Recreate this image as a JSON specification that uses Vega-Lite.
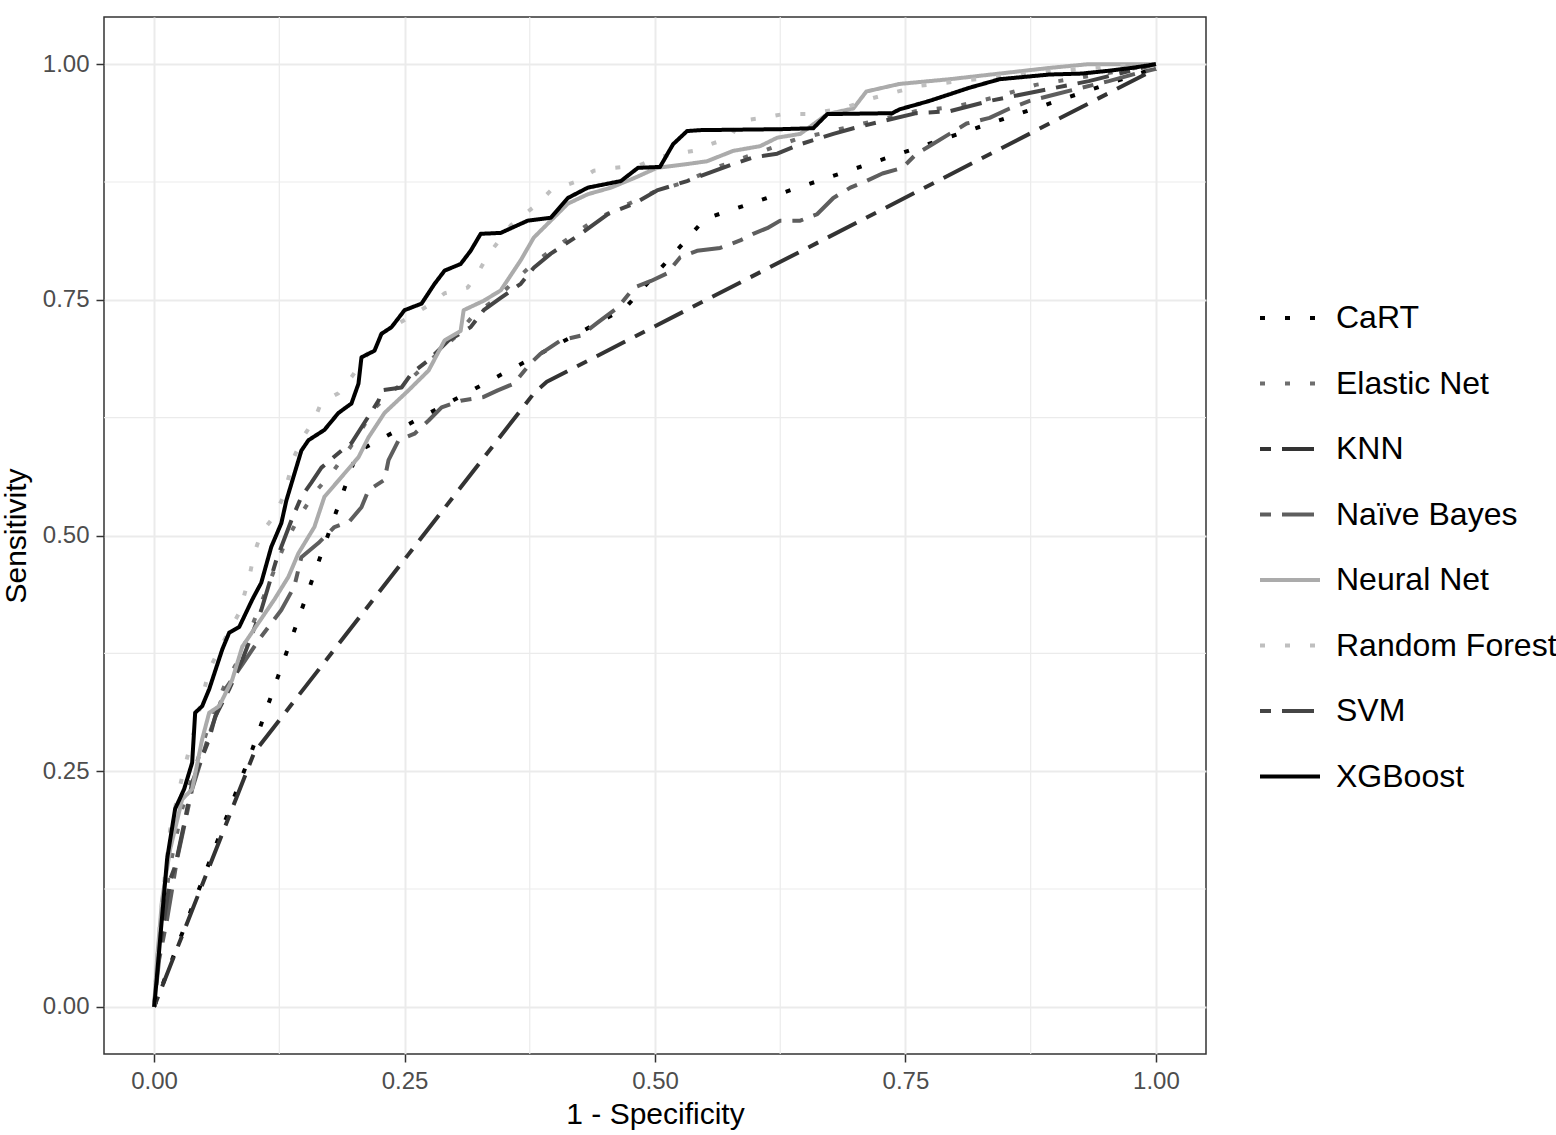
{
  "$schema": "https://vega.github.io/schema/vega-lite/v6.json",
  "width": 1102,
  "height": 1037,
  "autosize": {"type": "none"},
  "padding": {"left": 104, "top": 17, "right": 350, "bottom": 81},
  "background": "white",
  "config": {
    "font": "Liberation Sans",
    "view": {"stroke": "#333333", "strokeWidth": 1.5},
    "axis": {
      "domain": false,
      "grid": true,
      "gridColor": "#ebebeb",
      "gridWidth": 2,
      "tickColor": "#333333",
      "tickWidth": 1.5,
      "tickSize": 8,
      "labelFontSize": 24,
      "labelColor": "#4d4d4d",
      "labelPadding": 7,
      "titleFontSize": 30,
      "titleFontWeight": "normal",
      "titleColor": "#000000"
    },
    "legend": {
      "title": null,
      "orient": "none",
      "legendX": 1154,
      "legendY": 269,
      "symbolType": "stroke",
      "symbolSize": 3600,
      "symbolStrokeWidth": 4,
      "labelFontSize": 32,
      "labelColor": "#000000",
      "labelOffset": 14,
      "labelLimit": 0,
      "rowPadding": 17.5
    }
  },
  "datasets": {
    "minor": [{"v": 0.125}, {"v": 0.375}, {"v": 0.625}, {"v": 0.875}],
    "roc": [
      {"model": "CaRT", "fpr": 0, "tpr": 0},
      {"model": "CaRT", "fpr": 0.097, "tpr": 0.27},
      {"model": "CaRT", "fpr": 0.203, "tpr": 0.589},
      {"model": "CaRT", "fpr": 0.47, "tpr": 0.741},
      {"model": "CaRT", "fpr": 0.55, "tpr": 0.836},
      {"model": "CaRT", "fpr": 1, "tpr": 0.996},

      {"model": "KNN", "fpr": 0, "tpr": 0},
      {"model": "KNN", "fpr": 0.1, "tpr": 0.27},
      {"model": "KNN", "fpr": 0.38, "tpr": 0.652},
      {"model": "KNN", "fpr": 0.392, "tpr": 0.663},
      {"model": "KNN", "fpr": 1, "tpr": 0.995},

      {"model": "Elastic Net", "fpr": 0, "tpr": 0},
      {"model": "Elastic Net", "fpr": 0.004, "tpr": 0.06},
      {"model": "Elastic Net", "fpr": 0.01, "tpr": 0.11},
      {"model": "Elastic Net", "fpr": 0.018, "tpr": 0.16},
      {"model": "Elastic Net", "fpr": 0.028, "tpr": 0.21},
      {"model": "Elastic Net", "fpr": 0.04, "tpr": 0.25},
      {"model": "Elastic Net", "fpr": 0.055, "tpr": 0.3},
      {"model": "Elastic Net", "fpr": 0.07, "tpr": 0.34},
      {"model": "Elastic Net", "fpr": 0.085, "tpr": 0.37},
      {"model": "Elastic Net", "fpr": 0.1, "tpr": 0.41},
      {"model": "Elastic Net", "fpr": 0.115, "tpr": 0.45},
      {"model": "Elastic Net", "fpr": 0.13, "tpr": 0.49},
      {"model": "Elastic Net", "fpr": 0.145, "tpr": 0.52},
      {"model": "Elastic Net", "fpr": 0.16, "tpr": 0.545},
      {"model": "Elastic Net", "fpr": 0.18, "tpr": 0.57},
      {"model": "Elastic Net", "fpr": 0.2, "tpr": 0.6},
      {"model": "Elastic Net", "fpr": 0.22, "tpr": 0.635},
      {"model": "Elastic Net", "fpr": 0.24, "tpr": 0.655},
      {"model": "Elastic Net", "fpr": 0.26, "tpr": 0.67},
      {"model": "Elastic Net", "fpr": 0.28, "tpr": 0.69},
      {"model": "Elastic Net", "fpr": 0.3, "tpr": 0.71},
      {"model": "Elastic Net", "fpr": 0.32, "tpr": 0.735},
      {"model": "Elastic Net", "fpr": 0.34, "tpr": 0.75},
      {"model": "Elastic Net", "fpr": 0.36, "tpr": 0.77},
      {"model": "Elastic Net", "fpr": 0.38, "tpr": 0.79},
      {"model": "Elastic Net", "fpr": 0.4, "tpr": 0.805},
      {"model": "Elastic Net", "fpr": 0.42, "tpr": 0.82},
      {"model": "Elastic Net", "fpr": 0.44, "tpr": 0.835},
      {"model": "Elastic Net", "fpr": 0.46, "tpr": 0.845},
      {"model": "Elastic Net", "fpr": 0.48, "tpr": 0.855},
      {"model": "Elastic Net", "fpr": 0.5, "tpr": 0.865},
      {"model": "Elastic Net", "fpr": 0.53, "tpr": 0.875},
      {"model": "Elastic Net", "fpr": 0.56, "tpr": 0.89},
      {"model": "Elastic Net", "fpr": 0.6, "tpr": 0.905},
      {"model": "Elastic Net", "fpr": 0.64, "tpr": 0.92},
      {"model": "Elastic Net", "fpr": 0.68, "tpr": 0.93},
      {"model": "Elastic Net", "fpr": 0.72, "tpr": 0.94},
      {"model": "Elastic Net", "fpr": 0.76, "tpr": 0.95},
      {"model": "Elastic Net", "fpr": 0.8, "tpr": 0.955},
      {"model": "Elastic Net", "fpr": 0.84, "tpr": 0.965},
      {"model": "Elastic Net", "fpr": 0.88, "tpr": 0.978},
      {"model": "Elastic Net", "fpr": 0.92, "tpr": 0.985},
      {"model": "Elastic Net", "fpr": 0.96, "tpr": 0.992},
      {"model": "Elastic Net", "fpr": 1, "tpr": 1},

      {"model": "Naïve Bayes", "fpr": 0, "tpr": 0},
      {"model": "Naïve Bayes", "fpr": 0.005, "tpr": 0.05},
      {"model": "Naïve Bayes", "fpr": 0.013, "tpr": 0.093},
      {"model": "Naïve Bayes", "fpr": 0.023, "tpr": 0.157},
      {"model": "Naïve Bayes", "fpr": 0.038, "tpr": 0.231},
      {"model": "Naïve Bayes", "fpr": 0.055, "tpr": 0.289},
      {"model": "Naïve Bayes", "fpr": 0.071, "tpr": 0.337},
      {"model": "Naïve Bayes", "fpr": 0.088, "tpr": 0.363},
      {"model": "Naïve Bayes", "fpr": 0.105, "tpr": 0.39},
      {"model": "Naïve Bayes", "fpr": 0.127, "tpr": 0.421},
      {"model": "Naïve Bayes", "fpr": 0.14, "tpr": 0.446},
      {"model": "Naïve Bayes", "fpr": 0.147, "tpr": 0.477},
      {"model": "Naïve Bayes", "fpr": 0.164, "tpr": 0.492},
      {"model": "Naïve Bayes", "fpr": 0.18, "tpr": 0.509},
      {"model": "Naïve Bayes", "fpr": 0.195, "tpr": 0.515},
      {"model": "Naïve Bayes", "fpr": 0.207, "tpr": 0.53},
      {"model": "Naïve Bayes", "fpr": 0.214, "tpr": 0.548},
      {"model": "Naïve Bayes", "fpr": 0.23, "tpr": 0.559},
      {"model": "Naïve Bayes", "fpr": 0.234, "tpr": 0.58},
      {"model": "Naïve Bayes", "fpr": 0.244, "tpr": 0.601},
      {"model": "Naïve Bayes", "fpr": 0.26, "tpr": 0.608},
      {"model": "Naïve Bayes", "fpr": 0.274, "tpr": 0.622},
      {"model": "Naïve Bayes", "fpr": 0.287, "tpr": 0.636},
      {"model": "Naïve Bayes", "fpr": 0.306, "tpr": 0.643},
      {"model": "Naïve Bayes", "fpr": 0.329, "tpr": 0.647},
      {"model": "Naïve Bayes", "fpr": 0.343, "tpr": 0.654},
      {"model": "Naïve Bayes", "fpr": 0.359, "tpr": 0.661},
      {"model": "Naïve Bayes", "fpr": 0.376, "tpr": 0.683},
      {"model": "Naïve Bayes", "fpr": 0.386, "tpr": 0.693},
      {"model": "Naïve Bayes", "fpr": 0.406, "tpr": 0.707},
      {"model": "Naïve Bayes", "fpr": 0.426, "tpr": 0.712},
      {"model": "Naïve Bayes", "fpr": 0.443, "tpr": 0.726},
      {"model": "Naïve Bayes", "fpr": 0.463, "tpr": 0.742},
      {"model": "Naïve Bayes", "fpr": 0.479, "tpr": 0.763},
      {"model": "Naïve Bayes", "fpr": 0.496, "tpr": 0.77},
      {"model": "Naïve Bayes", "fpr": 0.512, "tpr": 0.778},
      {"model": "Naïve Bayes", "fpr": 0.525, "tpr": 0.795},
      {"model": "Naïve Bayes", "fpr": 0.542, "tpr": 0.802},
      {"model": "Naïve Bayes", "fpr": 0.565, "tpr": 0.805},
      {"model": "Naïve Bayes", "fpr": 0.585, "tpr": 0.813},
      {"model": "Naïve Bayes", "fpr": 0.598, "tpr": 0.82},
      {"model": "Naïve Bayes", "fpr": 0.612, "tpr": 0.826},
      {"model": "Naïve Bayes", "fpr": 0.625, "tpr": 0.834},
      {"model": "Naïve Bayes", "fpr": 0.645, "tpr": 0.834},
      {"model": "Naïve Bayes", "fpr": 0.662, "tpr": 0.841},
      {"model": "Naïve Bayes", "fpr": 0.678, "tpr": 0.858},
      {"model": "Naïve Bayes", "fpr": 0.695, "tpr": 0.869},
      {"model": "Naïve Bayes", "fpr": 0.711, "tpr": 0.876},
      {"model": "Naïve Bayes", "fpr": 0.727, "tpr": 0.884},
      {"model": "Naïve Bayes", "fpr": 0.747, "tpr": 0.89},
      {"model": "Naïve Bayes", "fpr": 0.761, "tpr": 0.905},
      {"model": "Naïve Bayes", "fpr": 0.777, "tpr": 0.915},
      {"model": "Naïve Bayes", "fpr": 0.794, "tpr": 0.926},
      {"model": "Naïve Bayes", "fpr": 0.811, "tpr": 0.937},
      {"model": "Naïve Bayes", "fpr": 0.834, "tpr": 0.943},
      {"model": "Naïve Bayes", "fpr": 0.854, "tpr": 0.953},
      {"model": "Naïve Bayes", "fpr": 0.874, "tpr": 0.961},
      {"model": "Naïve Bayes", "fpr": 0.9, "tpr": 0.968},
      {"model": "Naïve Bayes", "fpr": 0.926, "tpr": 0.975},
      {"model": "Naïve Bayes", "fpr": 0.953, "tpr": 0.982},
      {"model": "Naïve Bayes", "fpr": 0.98, "tpr": 0.99},
      {"model": "Naïve Bayes", "fpr": 1, "tpr": 0.995},

      {"model": "SVM", "fpr": 0, "tpr": 0},
      {"model": "SVM", "fpr": 0.004, "tpr": 0.051},
      {"model": "SVM", "fpr": 0.01, "tpr": 0.093},
      {"model": "SVM", "fpr": 0.016, "tpr": 0.135},
      {"model": "SVM", "fpr": 0.021, "tpr": 0.149},
      {"model": "SVM", "fpr": 0.031, "tpr": 0.199},
      {"model": "SVM", "fpr": 0.038, "tpr": 0.238},
      {"model": "SVM", "fpr": 0.055, "tpr": 0.284},
      {"model": "SVM", "fpr": 0.061, "tpr": 0.308},
      {"model": "SVM", "fpr": 0.075, "tpr": 0.337},
      {"model": "SVM", "fpr": 0.088, "tpr": 0.368},
      {"model": "SVM", "fpr": 0.107, "tpr": 0.421},
      {"model": "SVM", "fpr": 0.122, "tpr": 0.474},
      {"model": "SVM", "fpr": 0.137, "tpr": 0.516},
      {"model": "SVM", "fpr": 0.147, "tpr": 0.541},
      {"model": "SVM", "fpr": 0.157, "tpr": 0.556},
      {"model": "SVM", "fpr": 0.167, "tpr": 0.572},
      {"model": "SVM", "fpr": 0.187, "tpr": 0.59},
      {"model": "SVM", "fpr": 0.197, "tpr": 0.598},
      {"model": "SVM", "fpr": 0.224, "tpr": 0.643},
      {"model": "SVM", "fpr": 0.227, "tpr": 0.654},
      {"model": "SVM", "fpr": 0.247, "tpr": 0.657},
      {"model": "SVM", "fpr": 0.257, "tpr": 0.672},
      {"model": "SVM", "fpr": 0.274, "tpr": 0.686},
      {"model": "SVM", "fpr": 0.294, "tpr": 0.707},
      {"model": "SVM", "fpr": 0.316, "tpr": 0.721},
      {"model": "SVM", "fpr": 0.329, "tpr": 0.739},
      {"model": "SVM", "fpr": 0.346, "tpr": 0.752},
      {"model": "SVM", "fpr": 0.366, "tpr": 0.767},
      {"model": "SVM", "fpr": 0.379, "tpr": 0.784},
      {"model": "SVM", "fpr": 0.396, "tpr": 0.799},
      {"model": "SVM", "fpr": 0.426, "tpr": 0.82},
      {"model": "SVM", "fpr": 0.453, "tpr": 0.841},
      {"model": "SVM", "fpr": 0.479, "tpr": 0.852},
      {"model": "SVM", "fpr": 0.502, "tpr": 0.866},
      {"model": "SVM", "fpr": 0.532, "tpr": 0.876},
      {"model": "SVM", "fpr": 0.578, "tpr": 0.894},
      {"model": "SVM", "fpr": 0.598, "tpr": 0.901},
      {"model": "SVM", "fpr": 0.622, "tpr": 0.905},
      {"model": "SVM", "fpr": 0.645, "tpr": 0.915},
      {"model": "SVM", "fpr": 0.678, "tpr": 0.926},
      {"model": "SVM", "fpr": 0.698, "tpr": 0.932},
      {"model": "SVM", "fpr": 0.721, "tpr": 0.938},
      {"model": "SVM", "fpr": 0.761, "tpr": 0.948},
      {"model": "SVM", "fpr": 0.794, "tpr": 0.95},
      {"model": "SVM", "fpr": 0.834, "tpr": 0.961},
      {"model": "SVM", "fpr": 0.881, "tpr": 0.971},
      {"model": "SVM", "fpr": 0.933, "tpr": 0.982},
      {"model": "SVM", "fpr": 0.986, "tpr": 0.996},
      {"model": "SVM", "fpr": 1, "tpr": 1},

      {"model": "Neural Net", "fpr": 0, "tpr": 0},
      {"model": "Neural Net", "fpr": 0.003, "tpr": 0.051},
      {"model": "Neural Net", "fpr": 0.008, "tpr": 0.114},
      {"model": "Neural Net", "fpr": 0.016, "tpr": 0.167},
      {"model": "Neural Net", "fpr": 0.028, "tpr": 0.22},
      {"model": "Neural Net", "fpr": 0.038, "tpr": 0.231},
      {"model": "Neural Net", "fpr": 0.048, "tpr": 0.284},
      {"model": "Neural Net", "fpr": 0.055, "tpr": 0.312},
      {"model": "Neural Net", "fpr": 0.065, "tpr": 0.319},
      {"model": "Neural Net", "fpr": 0.078, "tpr": 0.347},
      {"model": "Neural Net", "fpr": 0.088, "tpr": 0.382},
      {"model": "Neural Net", "fpr": 0.104, "tpr": 0.407},
      {"model": "Neural Net", "fpr": 0.12, "tpr": 0.432},
      {"model": "Neural Net", "fpr": 0.134, "tpr": 0.456},
      {"model": "Neural Net", "fpr": 0.144, "tpr": 0.481},
      {"model": "Neural Net", "fpr": 0.16, "tpr": 0.509},
      {"model": "Neural Net", "fpr": 0.17, "tpr": 0.541},
      {"model": "Neural Net", "fpr": 0.187, "tpr": 0.562},
      {"model": "Neural Net", "fpr": 0.204, "tpr": 0.583},
      {"model": "Neural Net", "fpr": 0.214, "tpr": 0.604},
      {"model": "Neural Net", "fpr": 0.23, "tpr": 0.63},
      {"model": "Neural Net", "fpr": 0.24, "tpr": 0.64},
      {"model": "Neural Net", "fpr": 0.254, "tpr": 0.654},
      {"model": "Neural Net", "fpr": 0.274, "tpr": 0.675},
      {"model": "Neural Net", "fpr": 0.29, "tpr": 0.707},
      {"model": "Neural Net", "fpr": 0.306, "tpr": 0.717},
      {"model": "Neural Net", "fpr": 0.309, "tpr": 0.739},
      {"model": "Neural Net", "fpr": 0.329, "tpr": 0.749},
      {"model": "Neural Net", "fpr": 0.346, "tpr": 0.76},
      {"model": "Neural Net", "fpr": 0.366, "tpr": 0.792},
      {"model": "Neural Net", "fpr": 0.379, "tpr": 0.816},
      {"model": "Neural Net", "fpr": 0.396, "tpr": 0.834},
      {"model": "Neural Net", "fpr": 0.413, "tpr": 0.852},
      {"model": "Neural Net", "fpr": 0.433, "tpr": 0.862},
      {"model": "Neural Net", "fpr": 0.456, "tpr": 0.869},
      {"model": "Neural Net", "fpr": 0.479, "tpr": 0.879},
      {"model": "Neural Net", "fpr": 0.502, "tpr": 0.89},
      {"model": "Neural Net", "fpr": 0.532, "tpr": 0.894},
      {"model": "Neural Net", "fpr": 0.552, "tpr": 0.897},
      {"model": "Neural Net", "fpr": 0.578, "tpr": 0.908},
      {"model": "Neural Net", "fpr": 0.605, "tpr": 0.913},
      {"model": "Neural Net", "fpr": 0.622, "tpr": 0.922},
      {"model": "Neural Net", "fpr": 0.645, "tpr": 0.926},
      {"model": "Neural Net", "fpr": 0.672, "tpr": 0.947},
      {"model": "Neural Net", "fpr": 0.698, "tpr": 0.953},
      {"model": "Neural Net", "fpr": 0.711, "tpr": 0.971},
      {"model": "Neural Net", "fpr": 0.744, "tpr": 0.979},
      {"model": "Neural Net", "fpr": 0.794, "tpr": 0.984},
      {"model": "Neural Net", "fpr": 0.844, "tpr": 0.99},
      {"model": "Neural Net", "fpr": 0.894, "tpr": 0.996},
      {"model": "Neural Net", "fpr": 0.933, "tpr": 1},
      {"model": "Neural Net", "fpr": 1, "tpr": 1},

      {"model": "Random Forest", "fpr": 0, "tpr": 0},
      {"model": "Random Forest", "fpr": 0.006, "tpr": 0.093},
      {"model": "Random Forest", "fpr": 0.016, "tpr": 0.188},
      {"model": "Random Forest", "fpr": 0.028, "tpr": 0.244},
      {"model": "Random Forest", "fpr": 0.043, "tpr": 0.305},
      {"model": "Random Forest", "fpr": 0.055, "tpr": 0.358},
      {"model": "Random Forest", "fpr": 0.07, "tpr": 0.389},
      {"model": "Random Forest", "fpr": 0.085, "tpr": 0.418},
      {"model": "Random Forest", "fpr": 0.095, "tpr": 0.456},
      {"model": "Random Forest", "fpr": 0.1, "tpr": 0.481},
      {"model": "Random Forest", "fpr": 0.107, "tpr": 0.503},
      {"model": "Random Forest", "fpr": 0.119, "tpr": 0.519},
      {"model": "Random Forest", "fpr": 0.129, "tpr": 0.541},
      {"model": "Random Forest", "fpr": 0.14, "tpr": 0.584},
      {"model": "Random Forest", "fpr": 0.149, "tpr": 0.605},
      {"model": "Random Forest", "fpr": 0.159, "tpr": 0.621},
      {"model": "Random Forest", "fpr": 0.167, "tpr": 0.641},
      {"model": "Random Forest", "fpr": 0.184, "tpr": 0.651},
      {"model": "Random Forest", "fpr": 0.197, "tpr": 0.668},
      {"model": "Random Forest", "fpr": 0.227, "tpr": 0.714},
      {"model": "Random Forest", "fpr": 0.277, "tpr": 0.746},
      {"model": "Random Forest", "fpr": 0.29, "tpr": 0.757},
      {"model": "Random Forest", "fpr": 0.313, "tpr": 0.763},
      {"model": "Random Forest", "fpr": 0.323, "tpr": 0.778},
      {"model": "Random Forest", "fpr": 0.333, "tpr": 0.797},
      {"model": "Random Forest", "fpr": 0.356, "tpr": 0.829},
      {"model": "Random Forest", "fpr": 0.383, "tpr": 0.852},
      {"model": "Random Forest", "fpr": 0.396, "tpr": 0.866},
      {"model": "Random Forest", "fpr": 0.423, "tpr": 0.876},
      {"model": "Random Forest", "fpr": 0.439, "tpr": 0.887},
      {"model": "Random Forest", "fpr": 0.459, "tpr": 0.89},
      {"model": "Random Forest", "fpr": 0.483, "tpr": 0.892},
      {"model": "Random Forest", "fpr": 0.502, "tpr": 0.901},
      {"model": "Random Forest", "fpr": 0.522, "tpr": 0.905},
      {"model": "Random Forest", "fpr": 0.538, "tpr": 0.908},
      {"model": "Random Forest", "fpr": 0.555, "tpr": 0.915},
      {"model": "Random Forest", "fpr": 0.575, "tpr": 0.922},
      {"model": "Random Forest", "fpr": 0.585, "tpr": 0.94},
      {"model": "Random Forest", "fpr": 0.608, "tpr": 0.943},
      {"model": "Random Forest", "fpr": 0.628, "tpr": 0.947},
      {"model": "Random Forest", "fpr": 0.652, "tpr": 0.947},
      {"model": "Random Forest", "fpr": 0.688, "tpr": 0.953},
      {"model": "Random Forest", "fpr": 0.714, "tpr": 0.963},
      {"model": "Random Forest", "fpr": 0.764, "tpr": 0.977},
      {"model": "Random Forest", "fpr": 0.844, "tpr": 0.987},
      {"model": "Random Forest", "fpr": 0.923, "tpr": 0.995},
      {"model": "Random Forest", "fpr": 1, "tpr": 1},

      {"model": "XGBoost", "fpr": 0, "tpr": 0},
      {"model": "XGBoost", "fpr": 0.001, "tpr": 0.01},
      {"model": "XGBoost", "fpr": 0.008, "tpr": 0.096},
      {"model": "XGBoost", "fpr": 0.013, "tpr": 0.157},
      {"model": "XGBoost", "fpr": 0.021, "tpr": 0.21},
      {"model": "XGBoost", "fpr": 0.03, "tpr": 0.231},
      {"model": "XGBoost", "fpr": 0.038, "tpr": 0.259},
      {"model": "XGBoost", "fpr": 0.041, "tpr": 0.312},
      {"model": "XGBoost", "fpr": 0.048, "tpr": 0.319},
      {"model": "XGBoost", "fpr": 0.055, "tpr": 0.337},
      {"model": "XGBoost", "fpr": 0.068, "tpr": 0.379},
      {"model": "XGBoost", "fpr": 0.075, "tpr": 0.397},
      {"model": "XGBoost", "fpr": 0.085, "tpr": 0.403},
      {"model": "XGBoost", "fpr": 0.098, "tpr": 0.432},
      {"model": "XGBoost", "fpr": 0.107, "tpr": 0.45},
      {"model": "XGBoost", "fpr": 0.117, "tpr": 0.488},
      {"model": "XGBoost", "fpr": 0.127, "tpr": 0.513},
      {"model": "XGBoost", "fpr": 0.132, "tpr": 0.537},
      {"model": "XGBoost", "fpr": 0.147, "tpr": 0.59},
      {"model": "XGBoost", "fpr": 0.154, "tpr": 0.601},
      {"model": "XGBoost", "fpr": 0.17, "tpr": 0.612},
      {"model": "XGBoost", "fpr": 0.184, "tpr": 0.63},
      {"model": "XGBoost", "fpr": 0.197, "tpr": 0.64},
      {"model": "XGBoost", "fpr": 0.204, "tpr": 0.661},
      {"model": "XGBoost", "fpr": 0.207, "tpr": 0.689},
      {"model": "XGBoost", "fpr": 0.22, "tpr": 0.696},
      {"model": "XGBoost", "fpr": 0.227, "tpr": 0.714},
      {"model": "XGBoost", "fpr": 0.237, "tpr": 0.721},
      {"model": "XGBoost", "fpr": 0.25, "tpr": 0.739},
      {"model": "XGBoost", "fpr": 0.267, "tpr": 0.746},
      {"model": "XGBoost", "fpr": 0.28, "tpr": 0.767},
      {"model": "XGBoost", "fpr": 0.29, "tpr": 0.781},
      {"model": "XGBoost", "fpr": 0.306, "tpr": 0.788},
      {"model": "XGBoost", "fpr": 0.316, "tpr": 0.802},
      {"model": "XGBoost", "fpr": 0.326, "tpr": 0.82},
      {"model": "XGBoost", "fpr": 0.346, "tpr": 0.821},
      {"model": "XGBoost", "fpr": 0.373, "tpr": 0.834},
      {"model": "XGBoost", "fpr": 0.396, "tpr": 0.837},
      {"model": "XGBoost", "fpr": 0.413, "tpr": 0.858},
      {"model": "XGBoost", "fpr": 0.433, "tpr": 0.869},
      {"model": "XGBoost", "fpr": 0.466, "tpr": 0.876},
      {"model": "XGBoost", "fpr": 0.483, "tpr": 0.89},
      {"model": "XGBoost", "fpr": 0.505, "tpr": 0.891},
      {"model": "XGBoost", "fpr": 0.518, "tpr": 0.915},
      {"model": "XGBoost", "fpr": 0.532, "tpr": 0.929},
      {"model": "XGBoost", "fpr": 0.545, "tpr": 0.93},
      {"model": "XGBoost", "fpr": 0.625, "tpr": 0.931},
      {"model": "XGBoost", "fpr": 0.658, "tpr": 0.932},
      {"model": "XGBoost", "fpr": 0.672, "tpr": 0.947},
      {"model": "XGBoost", "fpr": 0.737, "tpr": 0.948},
      {"model": "XGBoost", "fpr": 0.744, "tpr": 0.952},
      {"model": "XGBoost", "fpr": 0.774, "tpr": 0.961},
      {"model": "XGBoost", "fpr": 0.794, "tpr": 0.968},
      {"model": "XGBoost", "fpr": 0.814, "tpr": 0.975},
      {"model": "XGBoost", "fpr": 0.844, "tpr": 0.984},
      {"model": "XGBoost", "fpr": 0.874, "tpr": 0.987},
      {"model": "XGBoost", "fpr": 0.894, "tpr": 0.989},
      {"model": "XGBoost", "fpr": 0.926, "tpr": 0.99},
      {"model": "XGBoost", "fpr": 0.953, "tpr": 0.993},
      {"model": "XGBoost", "fpr": 0.976, "tpr": 0.996},
      {"model": "XGBoost", "fpr": 1, "tpr": 1}
    ]
  },
  "layer": [
    {
      "data": {"name": "minor"},
      "mark": {"type": "rule", "color": "#ebebeb", "strokeWidth": 1.2},
      "encoding": {
        "x": {
          "field": "v", "type": "quantitative", "title": "1 - Specificity",
          "scale": {"domain": [-0.05, 1.05], "nice": false, "zero": false},
          "axis": {"values": [0, 0.25, 0.5, 0.75, 1], "format": ".2f", "titlePadding": 6}
        }
      }
    },
    {
      "data": {"name": "minor"},
      "mark": {"type": "rule", "color": "#ebebeb", "strokeWidth": 1.2},
      "encoding": {
        "y": {
          "field": "v", "type": "quantitative", "title": "Sensitivity",
          "scale": {"domain": [-0.05, 1.05], "nice": false, "zero": false},
          "axis": {"values": [0, 0.25, 0.5, 0.75, 1], "format": ".2f", "titlePadding": 11}
        }
      }
    },
    {
      "data": {"name": "roc"},
      "mark": {"type": "line", "strokeWidth": 4, "strokeCap": "butt", "strokeJoin": "round"},
      "encoding": {
        "x": {
          "field": "fpr", "type": "quantitative", "title": "1 - Specificity",
          "scale": {"domain": [-0.05, 1.05], "nice": false, "zero": false},
          "axis": {"values": [0, 0.25, 0.5, 0.75, 1], "format": ".2f", "titlePadding": 6}
        },
        "y": {
          "field": "tpr", "type": "quantitative", "title": "Sensitivity",
          "scale": {"domain": [-0.05, 1.05], "nice": false, "zero": false},
          "axis": {"values": [0, 0.25, 0.5, 0.75, 1], "format": ".2f", "titlePadding": 11}
        },
        "order": [{"field": "fpr", "type": "quantitative"}, {"field": "tpr", "type": "quantitative"}],
        "color": {
          "field": "model", "type": "nominal", "title": null,
          "scale": {
            "domain": ["CaRT", "Elastic Net", "KNN", "Naïve Bayes", "Neural Net", "Random Forest", "SVM", "XGBoost"],
            "range": ["#000000", "#6e6e6e", "#333333", "#5e5e5e", "#ababab", "#bfbfbf", "#454545", "#000000"]
          }
        },
        "strokeDash": {
          "field": "model", "type": "nominal", "title": null,
          "scale": {
            "domain": ["CaRT", "Elastic Net", "KNN", "Naïve Bayes", "Neural Net", "Random Forest", "SVM", "XGBoost"],
            "range": [[5, 20], [5, 20], [11, 11, 32, 11], [11, 11, 32, 11], [1, 0], [5, 20], [11, 11, 32, 11], [1, 0]]
          }
        }
      }
    }
  ]
}
